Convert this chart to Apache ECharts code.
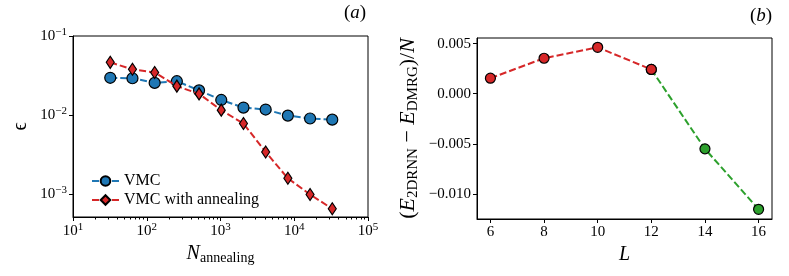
<!DOCTYPE html>
<html>
<head>
<meta charset="utf-8">
<script src="https://cdn.jsdelivr.net/npm/echarts@6/dist/echarts.min.js"></script>
<style>html,body{margin:0;padding:0;background:#fff}#c{width:789px;height:276px}</style>
</head>
<body>
<div id="c"></div>
<script>
// ---- data ----
const nAnnealing = [32, 64, 128, 256, 512, 1024, 2048, 4096, 8192, 16384, 32768];
const vmcEps = [0.0297, 0.0293, 0.0256, 0.0269, 0.0206, 0.0156, 0.0125, 0.0118, 0.0099, 0.0091, 0.0088];
const vmcAnnealEps = [0.0465, 0.038, 0.0347, 0.0233, 0.0186, 0.0116, 0.00785, 0.00344, 0.0016, 0.0010, 0.00066];
const sizesRed = [6, 8, 10, 12];
const dERed = [0.00155, 0.00354, 0.00463, 0.00242];
const sizesGreen = [12, 14, 16];
const dEGreen = [0.00242, -0.0055, -0.01153];
const xLogTicks = [10, 100, 1000, 10000, 100000];
const yLogTicks = [0.001, 0.01, 0.1];
const xLTicks = [6, 8, 10, 12, 14, 16];
const yDETicks = [-0.010, -0.005, 0.000, 0.005];

const FF = 'Liberation Serif';
const xMinor = [];
for (let i = 0; i < xLogTicks.length - 1; i++) for (let k = 2; k <= 9; k++) xMinor.push(xLogTicks[i] * k);

const supRich = {
  b: {fontFamily: FF, fontSize: 15, color: '#000'},
  s: {fontFamily: FF, fontSize: 11, color: '#000', padding: [0, 0, 8, 0]}
};
function powLabel(v) {
  const e = Math.round(Math.log10(v));
  return '{b|10}{s|' + (e < 0 ? '\u2212' + (-e) : e) + '}';
}
function fmtDE(v) {
  const s = Math.abs(v).toFixed(3);
  return (v < -1e-12 ? '\u2212' : '') + s;
}
const blue = '#1f77b4', red = '#d62728', green = '#2ca02c';
const dash = [7, 3];

const chart = echarts.init(document.getElementById('c'), null, {renderer: 'canvas'});
chart.setOption({
  animation: false,
  backgroundColor: '#fff',
  grid: [
    {left: 73, top: 36, width: 295, height: 181, show: true, borderColor: '#000', borderWidth: 1, backgroundColor: 'transparent'},
    {left: 477, top: 38, width: 295, height: 181, show: true, borderColor: '#000', borderWidth: 1, backgroundColor: 'transparent'}
  ],
  legend: {
    left: 86, top: 168, orient: 'vertical', itemWidth: 27, itemHeight: 12, itemGap: 3,
    textStyle: {fontFamily: FF, fontSize: 16, color: '#000'},
    data: ['VMC', 'VMC with annealing']
  },
  graphic: [
    {type: 'text', x: 355, y: 13, style: {text: '{p|(}{i|a}{p|)}', align: 'center', verticalAlign: 'middle',
      rich: {p: {fontFamily: FF, fontSize: 19, color: '#000'}, i: {fontFamily: FF, fontSize: 19, fontStyle: 'italic', color: '#000'}}}},
    {type: 'text', x: 761, y: 16, style: {text: '{p|(}{i|b}{p|)}', align: 'center', verticalAlign: 'middle',
      rich: {p: {fontFamily: FF, fontSize: 19, color: '#000'}, i: {fontFamily: FF, fontSize: 19, fontStyle: 'italic', color: '#000'}}}}
  ],
  xAxis: [
    {type: 'log', gridIndex: 0, min: 10, max: 100000, logBase: 10,
      axisLine: {show: true, lineStyle: {color: '#000', width: 1}},
      axisTick: {show: true, customValues: xLogTicks, length: 4, lineStyle: {color: '#000'}},
      axisLabel: {customValues: xLogTicks, formatter: powLabel, rich: supRich, margin: 5},
      splitLine: {show: false}, minorTick: {show: false},
      name: '{i|N}{s|annealing}', nameLocation: 'middle', nameGap: 25,
      nameTextStyle: {rich: {i: {fontFamily: FF, fontSize: 20, fontStyle: 'italic', color: '#000'}, s: {fontFamily: FF, fontSize: 14, color: '#000', padding: [9, 0, 0, 0]}}}
    },
    {type: 'log', gridIndex: 0, min: 10, max: 100000, logBase: 10, position: 'bottom',
      axisLine: {show: false},
      axisTick: {show: true, customValues: xMinor, length: 2.5, lineStyle: {color: '#000', width: 1}},
      axisLabel: {show: false}, splitLine: {show: false}
    },
    {type: 'value', gridIndex: 1, min: 5.5, max: 16.5,
      axisLine: {show: true, onZero: false, lineStyle: {color: '#000', width: 1}},
      axisTick: {show: true, customValues: xLTicks, length: 4, lineStyle: {color: '#000'}},
      axisLabel: {customValues: xLTicks, fontFamily: FF, fontSize: 15, color: '#000', margin: 6},
      splitLine: {show: false},
      name: 'L', nameLocation: 'middle', nameGap: 24,
      nameTextStyle: {fontFamily: FF, fontSize: 20, fontStyle: 'italic', color: '#000'}
    }
  ],
  yAxis: [
    {type: 'log', gridIndex: 0, min: 0.00052, max: 0.1, logBase: 10,
      axisLine: {show: true, lineStyle: {color: '#000', width: 1}},
      axisTick: {show: true, customValues: yLogTicks, length: 4, lineStyle: {color: '#000'}},
      axisLabel: {customValues: yLogTicks, formatter: powLabel, rich: supRich, margin: 6},
      splitLine: {show: false},
      name: '\u03f5', nameLocation: 'middle', nameGap: 42, nameRotate: 90,
      nameTextStyle: {fontFamily: FF, fontSize: 20, color: '#000'}
    },
    {type: 'value', gridIndex: 1, min: -0.0125, max: 0.00556,
      axisLine: {show: true, onZero: false, lineStyle: {color: '#000', width: 1}},
      axisTick: {show: true, customValues: yDETicks, length: 4, lineStyle: {color: '#000'}},
      axisLabel: {customValues: yDETicks, formatter: fmtDE, fontFamily: FF, fontSize: 15, color: '#000', margin: 6},
      splitLine: {show: false},
      name: '{p|(}{i|E}{s|2DRNN}{p| \u2212 }{i|E}{s|DMRG}{p|)/}{i|N}', nameLocation: 'middle', nameGap: 56, nameRotate: 90,
      nameTextStyle: {rich: {
        p: {fontFamily: FF, fontSize: 22, color: '#000'},
        i: {fontFamily: FF, fontSize: 22, fontStyle: 'italic', color: '#000'},
        s: {fontFamily: FF, fontSize: 15, color: '#000', padding: [10, 0, 0, 0]}
      }}
    }
  ],
  series: [
    {name: 'VMC', type: 'line', xAxisIndex: 0, yAxisIndex: 0, z: 3,
      data: nAnnealing.map((n, i) => [n, vmcEps[i]]),
      lineStyle: {color: blue, width: 2, type: dash},
      symbol: 'circle', symbolSize: 11,
      itemStyle: {color: blue, borderColor: '#000', borderWidth: 1.2}},
    {name: 'VMC with annealing', type: 'line', xAxisIndex: 0, yAxisIndex: 0, z: 4,
      data: nAnnealing.map((n, i) => [n, vmcAnnealEps[i]]),
      lineStyle: {color: red, width: 2, type: dash},
      symbol: 'diamond', symbolSize: [8, 12],
      itemStyle: {color: red, borderColor: '#000', borderWidth: 1.2}},
    {name: 'green', type: 'line', xAxisIndex: 2, yAxisIndex: 1, z: 3,
      data: sizesGreen.map((l, i) => [l, dEGreen[i]]),
      lineStyle: {color: green, width: 2, type: dash},
      symbol: 'circle', symbolSize: 10,
      itemStyle: {color: green, borderColor: '#000', borderWidth: 1.2}},
    {name: 'red', type: 'line', xAxisIndex: 2, yAxisIndex: 1, z: 4,
      data: sizesRed.map((l, i) => [l, dERed[i]]),
      lineStyle: {color: red, width: 2, type: dash},
      symbol: 'circle', symbolSize: 10,
      itemStyle: {color: red, borderColor: '#000', borderWidth: 1.2}}
  ]
});
</script>
</body>
</html>
